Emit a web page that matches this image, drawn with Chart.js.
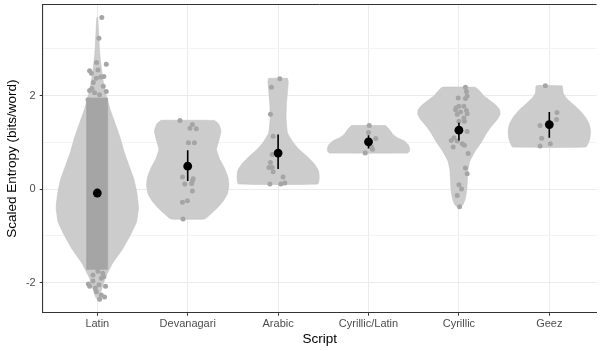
<!DOCTYPE html>
<html><head><meta charset="utf-8">
<script src="https://cdn.jsdelivr.net/npm/chart.js@4.4.1/dist/chart.umd.min.js"></script>
<style>html,body{margin:0;padding:0;background:#fff;}#wrap{width:601px;height:351px;}</style>
</head><body><div id="wrap"><canvas id="c" width="601" height="351"></canvas></div>
<script>
// ---- categories & summary stats ----
const categories = ['Latin', 'Devanagari', 'Arabic', 'Cyrillic/Latin', 'Cyrillic', 'Geez'];
const meanValues = [-0.085, 0.49, 0.77, 1.01, 1.26, 1.38];
const errLow  = [-0.13, 0.17, 0.43, 0.87, 1.04, 1.10];
const errHigh = [-0.04, 0.83, 1.17, 1.15, 1.42, 1.65];
const yTickValues = [-2, -1, 0, 1, 2, 3];

// ---- violin outlines: levels (value) and half-widths (category units) ----
const latinViolinY = [3.67, 3.3, 2.9, 2.6, 2.3, 2.0, 1.7, 1.4, 1.1, 0.8, 0.5, 0.2, -0.1, -0.4, -0.7, -1.0, -1.3, -1.6, -1.9, -2.1, -2.34];
const latinViolinW = [0.005, 0.016, 0.027, 0.044, 0.066, 0.099, 0.143, 0.198, 0.252, 0.296, 0.351, 0.406, 0.439, 0.455, 0.434, 0.362, 0.274, 0.165, 0.088, 0.055, 0.011];
const devaViolinY = [1.47, 1.40, 1.25, 1.05, 0.85, 0.65, 0.45, 0.25, 0.08, -0.1, -0.25, -0.40, -0.52, -0.64];
const devaViolinW = [0.296, 0.340, 0.368, 0.346, 0.318, 0.351, 0.406, 0.445, 0.455, 0.439, 0.395, 0.329, 0.263, 0.187];
const arabViolinY = [2.37, 2.30, 2.1, 1.8, 1.5, 1.2, 1.0, 0.85, 0.7, 0.55, 0.4, 0.25, 0.11];
const arabViolinW = [0.104, 0.112, 0.104, 0.091, 0.088, 0.104, 0.165, 0.230, 0.318, 0.395, 0.445, 0.455, 0.439];
const cyrlatViolinY = [1.36, 1.30, 1.17, 1.10, 1.03, 0.95, 0.87, 0.80, 0.77];
const cyrlatViolinW = [0.187, 0.220, 0.269, 0.318, 0.395, 0.439, 0.455, 0.450, 0.428];
const cyrViolinY = [2.18, 2.10, 2.0, 1.9, 1.8, 1.7, 1.6, 1.5, 1.35, 1.2, 1.0, 0.8, 0.6, 0.4, 0.2, 0.0, -0.2, -0.32, -0.39];
const cyrViolinW = [0.183, 0.230, 0.274, 0.340, 0.406, 0.450, 0.455, 0.428, 0.362, 0.307, 0.247, 0.176, 0.121, 0.099, 0.093, 0.088, 0.071, 0.049, 0.016];
const geezViolinY = [2.21, 2.05, 1.95, 1.85, 1.7, 1.55, 1.4, 1.25, 1.1, 1.0, 0.9];
const geezViolinW = [0.143, 0.154, 0.187, 0.241, 0.329, 0.395, 0.439, 0.455, 0.450, 0.434, 0.406];

// ---- Latin dense band of observations (value range, half jitter width) ----
const latinBandY = [-1.72, 1.95];
const latinBandW = [0.115, 0.115];

// ---- individual observations: value and jitter offset (category units) ----
const latinPtsY  = [3.67, 3.23, 2.71, 2.67, 2.53, 2.48, 2.55, 2.41, 2.37, 2.40, 2.11, 2.15, 2.06, 2.09, 2.02, 1.91, 2.20, 2.28,
                    -1.88, -2.08, -1.97, -2.05, -2.08, -2.27, -2.31, -2.36, -2.20, -2.03, -1.91, -1.84, -1.76, -2.12, -1.80];
const latinPtsDX = [0.050, 0.018, -0.008, 0.099, -0.085, -0.066, 0.007, 0.072, -0.011, 0.038, -0.085, -0.059, -0.030, 0.099, 0.025, -0.103, 0.066, -0.044,
                    0.072, -0.085, -0.048, 0.018, 0.091, 0.044, 0.080, 0.025, -0.011, -0.099, 0.044, -0.048, 0.007, -0.022, 0.060];
const devaPtsY  = [1.47, 1.38, 1.30, 1.29, 0.99, 0.99, 0.26, 0.18, 0.22, 0.11, 0.12, -0.04, -0.28, -0.25, -0.64];
const devaPtsDX = [-0.085, 0.052, 0.025, 0.095, 0.008, 0.074, -0.058, 0.052, 0.060, -0.033, 0.044, 0.052, -0.058, -0.003, -0.052];
const arabPtsY  = [2.36, 2.18, 1.60, 1.13, 0.74, 0.57, 0.46, 0.46, 0.37, 0.26, 0.11, 0.11, 0.13];
const arabPtsDX = [0.019, -0.074, -0.085, -0.055, -0.066, -0.085, -0.102, -0.066, -0.055, 0.055, -0.091, 0.030, 0.074];
const cyrlatPtsY  = [1.36, 1.21, 1.08, 0.90, 0.85, 0.77];
const cyrlatPtsDX = [0.008, 0.0, 0.080, 0.033, 0.044, -0.036];
const cyrPtsY  = [2.18, 2.09, 1.99, 1.95, 1.94, 1.77, 1.77, 1.70, 1.68, 1.60, 1.52, 1.45, 1.74, 1.65, 1.61, 1.45, 1.23, 1.10, 1.04, 1.03, 0.97, 0.90, 0.94, 0.76, 0.45, 0.33, 0.09, 0.0, -0.14, -0.38];
const cyrPtsDX = [0.072, 0.083, 0.091, -0.008, 0.072, 0.0, 0.055, -0.037, 0.083, -0.019, 0.055, 0.0, -0.030, 0.018, 0.091, 0.061, 0.091, -0.055, -0.085, -0.019, 0.036, -0.063, 0.061, 0.102, 0.072, 0.091, 0.0, 0.029, -0.019, 0.007];
const geezPtsY  = [2.21, 1.64, 1.49, 1.36, 1.09, 0.97, 0.92];
const geezPtsDX = [-0.044, 0.085, 0.080, -0.102, -0.085, 0.011, -0.102];

// ---- build datasets ----
const violinYs = [latinViolinY, devaViolinY, arabViolinY, cyrlatViolinY, cyrViolinY, geezViolinY];
const violinWs = [latinViolinW, devaViolinW, arabViolinW, cyrlatViolinW, cyrViolinW, geezViolinW];
const ptsYs = [latinPtsY, devaPtsY, arabPtsY, cyrlatPtsY, cyrPtsY, geezPtsY];
const ptsDXs = [latinPtsDX, devaPtsDX, arabPtsDX, cyrlatPtsDX, cyrPtsDX, geezPtsDX];

function outline(ci, ys, ws) {
  const pts = [];
  for (let i = 0; i < ys.length; i++) pts.push({x: ci + ws[i], y: ys[i]});
  for (let i = ys.length - 1; i >= 0; i--) pts.push({x: ci - ws[i], y: ys[i]});
  pts.push({x: ci + ws[0], y: ys[0]});
  return pts;
}

const VIOLIN = '#cccccc', POINT = '#a5a5a5';
const datasets = [];
categories.forEach((c, ci) => {
  datasets.push({
    data: outline(ci, violinYs[ci], violinWs[ci]),
    showLine: true, fill: 'shape', tension: 0.12,
    backgroundColor: VIOLIN, borderColor: '#c2c2c2', borderWidth: 0.6,
    pointRadius: 0, order: 5
  });
});
datasets.push({
  data: outline(0, latinBandY, latinBandW),
  showLine: true, fill: 'shape', tension: 0,
  backgroundColor: POINT, borderColor: POINT, borderWidth: 0.5,
  pointRadius: 0, order: 4
});
const jitter = [];
categories.forEach((c, ci) => {
  ptsYs[ci].forEach((v, k) => jitter.push({x: ci + ptsDXs[ci][k], y: v}));
});
datasets.push({
  data: jitter, showLine: false,
  pointRadius: 2.5, pointBackgroundColor: POINT, pointBorderWidth: 0, pointBorderColor: POINT,
  order: 3
});
categories.forEach((c, ci) => {
  datasets.push({
    data: [{x: ci, y: errLow[ci]}, {x: ci, y: errHigh[ci]}],
    showLine: true, fill: false, borderColor: '#000', borderWidth: 1.6,
    pointRadius: 0, order: 2
  });
});
datasets.push({
  data: meanValues.map((v, ci) => ({x: ci, y: v})), showLine: false,
  pointRadius: 4.4, pointBackgroundColor: '#000', pointBorderWidth: 0,
  order: 1
});

const topBorder = {
  id: 'topBorder',
  afterDraw(chart) {
    const {ctx, chartArea: a} = chart;
    ctx.save();
    ctx.strokeStyle = '#333333'; ctx.lineWidth = 1;
    ctx.beginPath();
    ctx.moveTo(a.left, Math.floor(a.top) + 0.5);
    ctx.lineTo(a.right, Math.floor(a.top) + 0.5);
    ctx.stroke();
    ctx.restore();
  }
};

const FONT = "'Liberation Sans', Arial, Helvetica, sans-serif";
new Chart(document.getElementById('c'), {
  type: 'scatter',
  data: {datasets},
  plugins: [topBorder],
  options: {
    responsive: false, animation: false, devicePixelRatio: 1,
    layout: {padding: {left: 0, right: 0, top: 2.5, bottom: 0}},
    plugins: {legend: {display: false}, tooltip: {enabled: false}},
    scales: {
      x: {
        type: 'linear', min: -0.604, max: 5.523,
        afterBuildTicks: s => { s.ticks = categories.map((c, i) => ({value: i})); },
        afterFit: s => { s.height = 38.3; s.paddingLeft = 0; s.paddingRight = 0; },
        ticks: {
          callback: v => categories[v] ?? '',
          color: '#4d4d4d', font: {family: FONT, size: 11}, padding: 2, maxRotation: 0, autoSkip: false
        },
        grid: {color: '#ebebeb', lineWidth: 1, tickLength: 3, tickColor: '#333333', tickWidth: 1},
        border: {display: true, color: '#333333', width: 1.1},
        title: {display: true, text: 'Script', color: '#000', font: {family: FONT, size: 13.5}, padding: {top: 0, bottom: 4}}
      },
      y: {
        type: 'linear', min: -2.647, max: 3.953,
        afterBuildTicks: s => { s.ticks = yTickValues.map(v => ({value: v})); },
        afterFit: s => { s.width = 42.7; s.paddingTop = 0; s.paddingBottom = 0; },
        ticks: {
          callback: v => (v % 2 === 0 ? String(v) : ''),
          color: '#4d4d4d', font: {family: FONT, size: 11}, padding: 4
        },
        grid: {
          color: ctx => (ctx.tick && ctx.tick.value % 2 === 0 ? '#ebebeb' : '#f3f3f3'),
          lineWidth: 1, tickLength: 3,
          tickColor: ctx => (ctx.tick && ctx.tick.value % 2 === 0 ? '#333333' : 'rgba(0,0,0,0)'),
          tickWidth: 1
        },
        border: {display: true, color: '#333333', width: 1.1},
        title: {display: true, text: 'Scaled Entropy (bits/word)', color: '#000', font: {family: FONT, size: 13.5}, padding: {top: 4, bottom: 0}}
      }
    }
  }
});
</script>
</body></html>
